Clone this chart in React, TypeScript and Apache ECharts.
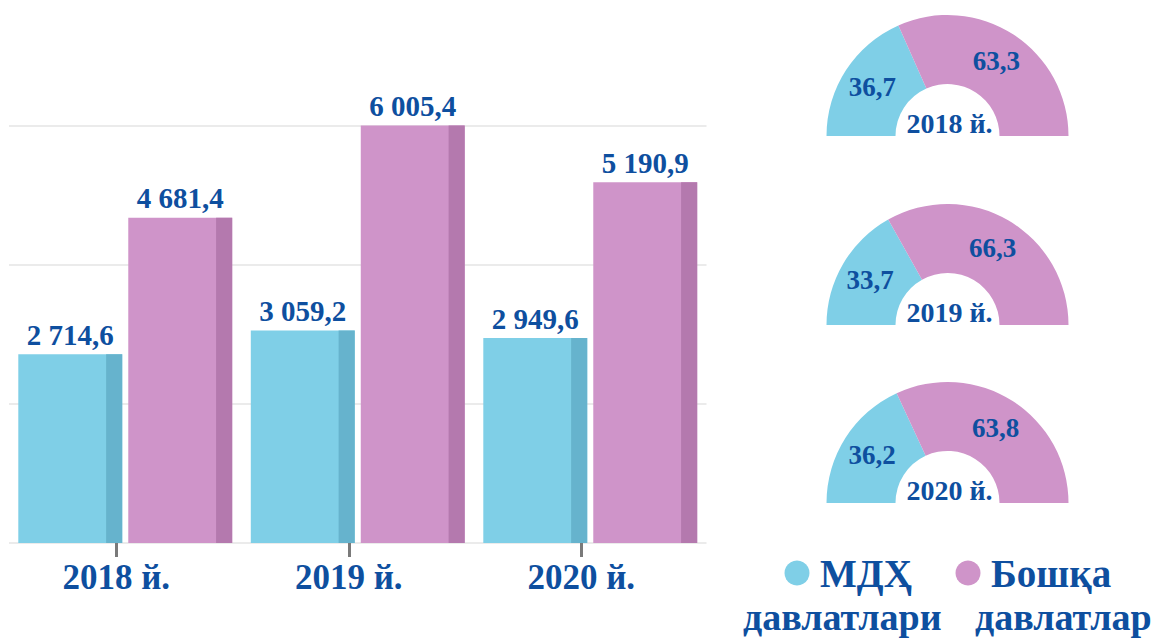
import React, { useEffect, useRef } from 'react';
import * as echarts from 'echarts';

const categories = ['2018 й.', '2019 й.', '2020 й.'];
const cisValues = [2714.6, 3059.2, 2949.6];
const otherValues = [4681.4, 6005.4, 5190.9];
const cisShare = [36.7, 33.7, 36.2];
const otherShare = [63.3, 66.3, 63.8];
const legendNames = [
  ['МДҲ', 'давлатлари'],
  ['Бошқа', 'давлатлар'],
];
const yTicks = { min: 0, max: 6000, interval: 2000 };

const BLUE = '#7fcfe7';
const BLUE_DARK = '#66b3cd';
const PINK = '#cf94c9';
const PINK_DARK = '#b479ae';
const TEXT = '#0e4f9f';
const FONT = "'Liberation Serif', 'DejaVu Serif', serif";

const fmt = (v: number) => {
  const [i, d] = v.toFixed(1).split('.');
  return i.replace(/\B(?=(\d{3})+(?!\d))/g, ' ') + ',' + d;
};

const pieCentersY = [136, 325, 503];
const PIE_X = 947.5;

export default function App() {
  const ref = useRef<HTMLDivElement>(null);
  useEffect(() => {
    document.body.style.margin = '0';
    const chart = echarts.init(ref.current!, null, { renderer: 'svg' });

    const barSeries = [cisValues, otherValues].map((vals, s) => ({
      type: 'custom',
      xAxisIndex: 0,
      yAxisIndex: 0,
      data: vals.map((v, i) => [i, v]),
      encode: { x: 0, y: 1 },
      silent: true,
      renderItem: (params: any, api: any) => {
        const idx = api.value(0);
        const val = api.value(1);
        const [cx, y] = api.coord([idx, val]);
        const [, y0] = api.coord([idx, 0]);
        const band = api.size([1, 0])[0];
        const barW = band * 0.447;
        const gap = band * 0.026;
        const x = s === 0 ? cx - gap / 2 - barW : cx + gap / 2;
        const strip = barW * 0.155;
        return {
          type: 'group',
          children: [
            { type: 'rect', shape: { x, y, width: barW, height: y0 - y }, style: { fill: s === 0 ? BLUE : PINK } },
            { type: 'rect', shape: { x: x + barW - strip, y, width: strip, height: y0 - y }, style: { fill: s === 0 ? BLUE_DARK : PINK_DARK } },
            {
              type: 'text',
              style: {
                text: fmt(val),
                x: x + barW / 2,
                y: y - 5,
                align: 'center',
                verticalAlign: 'bottom',
                fill: TEXT,
                font: `bold 29px ${FONT}`,
              },
            },
          ],
        };
      },
    }));

    const pieSeries = cisShare.map((c, i) => ({
      type: 'pie',
      center: [PIE_X, pieCentersY[i]],
      radius: [52, 121],
      startAngle: 180,
      clockwise: true,
      silent: true,
      avoidLabelOverlap: false,
      label: {
        show: true,
        position: 'inside',
        formatter: (p: any) => fmt(p.value),
        fontSize: 27,
        fontWeight: 'bold',
        fontFamily: FONT,
        color: TEXT,
      },
      labelLine: { show: false },
      data: [
        { value: c, name: legendNames[0].join(' '), itemStyle: { color: BLUE } },
        { value: otherShare[i], name: legendNames[1].join(' '), itemStyle: { color: PINK } },
        { value: c + otherShare[i], name: 'hidden', itemStyle: { color: 'none' }, label: { show: false } },
      ],
    }));

    const graphics: any[] = [];
    categories.forEach((cat, i) => {
      graphics.push({
        type: 'text',
        x: PIE_X + 2,
        y: pieCentersY[i] - 13,
        style: { text: cat, align: 'center', verticalAlign: 'middle', fill: TEXT, font: `bold 28px ${FONT}` },
      });
    });
    const legendX = [797, 968];
    const legendLine2X = [743, 975];
    [BLUE, PINK].forEach((col, k) => {
      graphics.push({ type: 'circle', shape: { cx: legendX[k], cy: 573, r: 12.5 }, style: { fill: col } });
      graphics.push({
        type: 'text',
        x: legendX[k] + 23,
        y: 573,
        style: { text: legendNames[k][0], align: 'left', verticalAlign: 'middle', fill: TEXT, font: `bold 39px ${FONT}` },
      });
      graphics.push({
        type: 'text',
        x: legendLine2X[k],
        y: 617,
        style: { text: legendNames[k][1], align: 'left', verticalAlign: 'middle', fill: TEXT, font: `bold 38px ${FONT}` },
      });
    });

    chart.setOption({
      animation: false,
      grid: [
        { left: 9, width: 697.5, top: 126, height: 417 },
        { left: 0, width: 697.5, top: 126, height: 417 },
      ],
      xAxis: [
        {
          type: 'category',
          gridIndex: 0,
          data: categories,
          axisLine: { show: false },
          axisTick: { show: false },
          axisLabel: { show: false },
        },
        {
          type: 'category',
          gridIndex: 1,
          data: categories,
          axisLine: { show: false },
          axisTick: { show: true, alignWithLabel: true, length: 14, lineStyle: { color: '#7a7a7a', width: 3 } },
          axisLabel: { show: true, margin: 17, fontSize: 35, fontWeight: 'bold', fontFamily: FONT, color: TEXT },
        },
      ],
      yAxis: [
        {
          type: 'value',
          gridIndex: 0,
          ...yTicks,
          axisLabel: { show: false },
          axisLine: { show: false },
          axisTick: { show: false },
          splitLine: { show: true, lineStyle: { color: '#ebebeb', width: 2 } },
        },
        {
          type: 'value',
          gridIndex: 1,
          ...yTicks,
          show: false,
          splitLine: { show: false },
        },
      ],
      series: [...barSeries, ...pieSeries],
      graphic: graphics,
    } as any);
    return () => chart.dispose();
  }, []);
  return <div ref={ref} style={{ width: 1164, height: 638 }} />;
}
